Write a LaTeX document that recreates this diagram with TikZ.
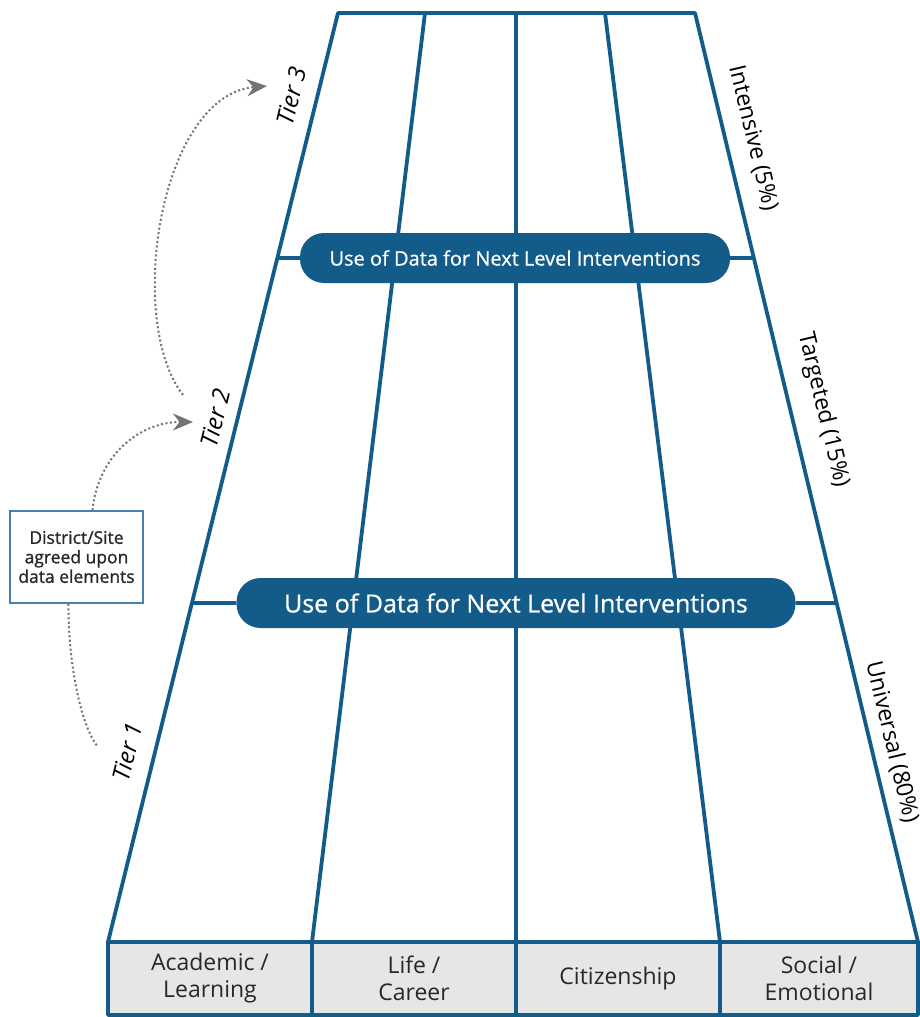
\documentclass[tikz,border=0pt]{standalone}
\usepackage{fontspec}
\setmainfont{Open Sans}
\newfontfamily\semifont[FakeBold=0.7]{Open Sans}
\newfontfamily\boxfont[FakeBold=1.1]{Open Sans}
\usetikzlibrary{calc,arrows.meta}

\definecolor{tierblue}{RGB}{19,92,138}
\definecolor{cellgray}{RGB}{230,230,230}
\definecolor{boxblue}{RGB}{72,128,178}
\definecolor{dotgray}{RGB}{115,115,115}
\definecolor{textgray}{RGB}{40,40,40}

\begin{document}
\begin{tikzpicture}[
	x=1pt, y=-1pt,
	align=center,
	frame/.style={draw=tierblue, line width=3.8pt, line join=round},
	bar/.style={
		fill=tierblue,
		text=white,
		rounded corners=24pt,
		minimum height=50pt,
		inner sep=0pt
	},
	cell/.style={
		frame,
		fill=cellgray,
		text=textgray,
		minimum height=73pt,
		font=\fontsize{23pt}{27pt}\selectfont
	},
	tier/.style={font=\fontsize{24pt}{26pt}\selectfont\itshape, rotate=76},
	level/.style={font=\fontsize{23pt}{26pt}\selectfont, rotate=-76.5},
	hop/.style={draw=dotgray, line width=2pt, dash pattern=on 2pt off 2.5pt},
	tip/.style={-{Stealth[length=20pt,width=17pt,fill=dotgray]}}
	]
	\useasboundingbox (0,0) rectangle (920,1017);

	% frame
	\coordinate (tl) at (338,13);
	\coordinate (tr) at (695,13);
	\coordinate (bl) at (108,942);
	\coordinate (br) at (918,942);
	\draw[frame] (tl) -- (tr) -- (br) -- (bl) -- cycle;
	\draw[frame] (425,13) -- (312,942);
	\draw[frame] (516,13) -- (516,942);
	\draw[frame] (605,13) -- (720,942);

	% data bars
	\node[bar, minimum width=430pt, font=\fontsize{20pt}{23pt}\semifont] (barup) at (515,258) {Use of Data for Next Level Interventions};
	\node[bar, minimum width=559pt, font=\fontsize{25pt}{28pt}\semifont] (barlow) at (516,603) {Use of Data for Next Level Interventions};
	\draw[frame] (intersection of tl--bl and barup.west--barup.east) -- (barup.west);
	\draw[frame] (intersection of tr--br and barup.west--barup.east) -- (barup.east);
	\draw[frame] (intersection of tl--bl and barlow.west--barlow.east) -- (barlow.west);
	\draw[frame] (intersection of tr--br and barlow.west--barlow.east) -- (barlow.east);

	% domains
	\node[cell, minimum width=204pt] (acad) at (210,978.5) {Academic /\\Learning};
	\node[cell, minimum width=204pt] (life) at (414,978.5) {Life /\\Career};
	\node[cell, minimum width=204pt] (citz) at (618,978.5) {Citizenship};
	\node[cell, minimum width=198pt] (soc) at (819,978.5) {Social /\\Emotional};

	% levels
	\node[level] (intens) at (753,138) {Intensive (5\%)};
	\node[level] (target) at (823,410) {Targeted (15\%)};
	\node[level] (univ) at (892,742) {Universal (80\%)};

	% tiers
	\node[tier] (tierthree) at (291,96) {Tier 3};
	\node[tier] (tiertwo) at (215,418) {Tier 2};
	\node[tier] (tierone) at (127,752) {Tier 1};

	% district box
	\node[draw=boxblue, line width=1.5pt, fill=white, text=textgray,
		minimum width=133pt, minimum height=92pt, inner sep=2pt,
		font=\fontsize{17.5pt}{19.5pt}\boxfont] (dsbox) at (76.5,557)
		{District/Site\\agreed upon\\data elements};

	% hops
	\coordinate (tiptwo) at (193,422);
	\coordinate (outtwo) at (183,395);
	\coordinate (tipthree) at (267,86);
	\coordinate (endone) at (98,747);
	\draw[hop, tip] ([xshift=16pt]dsbox.north) .. controls (98,455) and (140,422) .. (tiptwo);
	\draw[hop, tip] (outtwo) .. controls (125,320) and (160,95) .. (tipthree);
	\draw[hop] ([xshift=-8pt]dsbox.south) .. controls (68,660) and (80,725) .. (endone);
\end{tikzpicture}
\end{document}
